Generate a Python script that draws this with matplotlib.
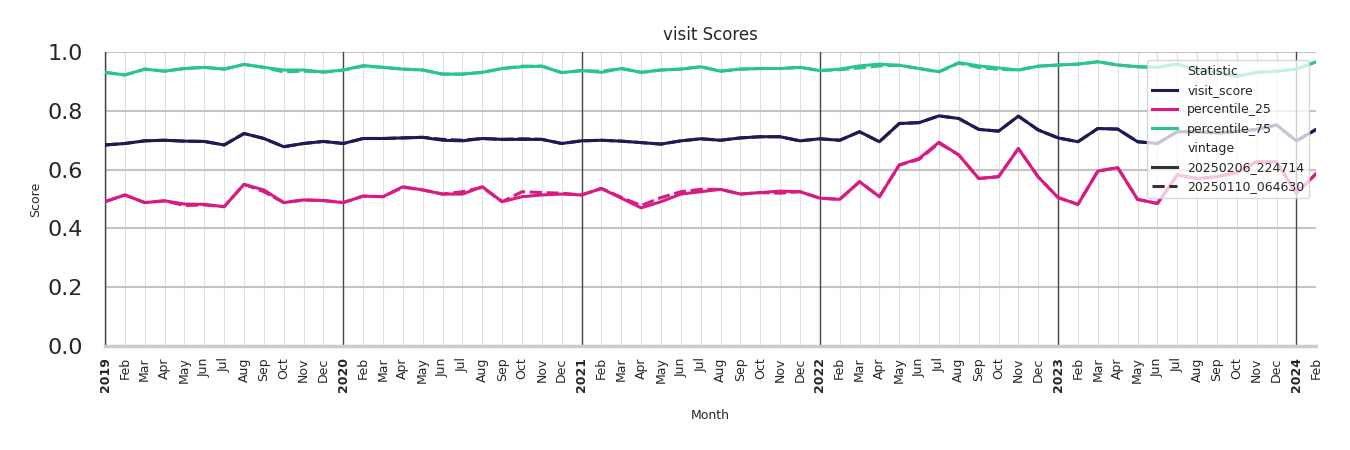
import numpy as np
import matplotlib.pyplot as plt
from matplotlib.lines import Line2D

# monthly axis, Jan 2019 .. Feb 2024
months = ["Jan", "Feb", "Mar", "Apr", "May", "Jun", "Jul", "Aug", "Sep", "Oct", "Nov", "Dec"]
years = [2019, 2020, 2021, 2022, 2023, 2024]
tick_labels = []
for y in years:
    for m in months:
        tick_labels.append(str(y) if m == "Jan" else m)
tick_labels = tick_labels[:62]

# vintage 20250206_224714 (solid)
visit_score = [
    0.684, 0.689, 0.698, 0.700, 0.697, 0.696, 0.684, 0.723, 0.706, 0.678, 0.689, 0.696,
    0.689, 0.706, 0.706, 0.708, 0.710, 0.700, 0.698, 0.706, 0.703, 0.703, 0.703, 0.689,
    0.698, 0.700, 0.697, 0.692, 0.687, 0.698, 0.705, 0.700, 0.708, 0.712, 0.712, 0.698,
    0.705, 0.700, 0.729, 0.695, 0.757, 0.760, 0.783, 0.774, 0.737, 0.731, 0.782, 0.735,
    0.708, 0.695, 0.740, 0.738, 0.695, 0.689, 0.729, 0.729, 0.725, 0.730, 0.737, 0.752,
    0.698, 0.737,
]
percentile_25 = [
    0.491, 0.514, 0.488, 0.494, 0.483, 0.482, 0.474, 0.550, 0.531, 0.488, 0.497, 0.495,
    0.488, 0.510, 0.508, 0.542, 0.531, 0.517, 0.517, 0.542, 0.491, 0.508, 0.514, 0.517,
    0.514, 0.536, 0.503, 0.470, 0.491, 0.517, 0.525, 0.533, 0.517, 0.522, 0.527, 0.525,
    0.503, 0.499, 0.559, 0.508, 0.616, 0.638, 0.693, 0.650, 0.570, 0.576, 0.672, 0.575,
    0.505, 0.482, 0.595, 0.607, 0.499, 0.485, 0.582, 0.570, 0.576, 0.590, 0.627, 0.627,
    0.519, 0.587,
]
percentile_75 = [
    0.931, 0.922, 0.942, 0.935, 0.944, 0.948, 0.942, 0.958, 0.948, 0.939, 0.939, 0.932,
    0.939, 0.954, 0.948, 0.942, 0.939, 0.925, 0.925, 0.931, 0.944, 0.950, 0.952, 0.930,
    0.937, 0.931, 0.944, 0.931, 0.939, 0.942, 0.950, 0.935, 0.942, 0.944, 0.944, 0.948,
    0.937, 0.942, 0.953, 0.959, 0.955, 0.944, 0.933, 0.964, 0.953, 0.946, 0.939, 0.952,
    0.956, 0.959, 0.967, 0.956, 0.950, 0.948, 0.959, 0.939, 0.931, 0.918, 0.931, 0.935,
    0.942, 0.967,
]

# vintage 20250110_064630 (dashed)
visit_score_old = [
    0.684, 0.689, 0.698, 0.700, 0.697, 0.696, 0.684, 0.723, 0.706, 0.678, 0.689, 0.696,
    0.689, 0.706, 0.706, 0.708, 0.710, 0.703, 0.700, 0.706, 0.703, 0.705, 0.703, 0.689,
    0.698, 0.700, 0.697, 0.692, 0.687, 0.698, 0.705, 0.700, 0.708, 0.712, 0.712, 0.698,
    0.705, 0.700, 0.729, 0.695, 0.757, 0.760, 0.783, 0.774, 0.737, 0.731, 0.782, 0.735,
    0.708, 0.695, 0.740, 0.738, 0.695, 0.689, 0.729, 0.729, 0.725, 0.730, 0.737, 0.752,
    0.698, 0.737,
]
percentile_25_old = [
    0.491, 0.514, 0.488, 0.494, 0.478, 0.480, 0.474, 0.550, 0.525, 0.488, 0.497, 0.495,
    0.488, 0.510, 0.508, 0.540, 0.531, 0.517, 0.525, 0.540, 0.491, 0.525, 0.522, 0.520,
    0.514, 0.536, 0.506, 0.478, 0.505, 0.525, 0.533, 0.533, 0.517, 0.522, 0.520, 0.525,
    0.503, 0.499, 0.559, 0.508, 0.616, 0.635, 0.690, 0.650, 0.570, 0.576, 0.672, 0.575,
    0.505, 0.482, 0.595, 0.607, 0.499, 0.485, 0.582, 0.570, 0.576, 0.590, 0.627, 0.627,
    0.519, 0.587,
]
percentile_75_old = [
    0.931, 0.922, 0.942, 0.935, 0.944, 0.948, 0.942, 0.958, 0.948, 0.932, 0.935, 0.932,
    0.939, 0.952, 0.948, 0.942, 0.939, 0.925, 0.925, 0.931, 0.944, 0.952, 0.952, 0.930,
    0.937, 0.935, 0.944, 0.931, 0.939, 0.942, 0.950, 0.935, 0.942, 0.944, 0.944, 0.948,
    0.937, 0.940, 0.946, 0.953, 0.955, 0.944, 0.933, 0.962, 0.948, 0.941, 0.939, 0.952,
    0.956, 0.959, 0.967, 0.956, 0.950, 0.948, 0.959, 0.939, 0.931, 0.918, 0.931, 0.935,
    0.942, 0.967,
]

colors = {"visit_score": "#1c1c52", "percentile_25": "#d81b84", "percentile_75": "#2bc38f"}
series = {
    "visit_score": (visit_score, visit_score_old),
    "percentile_25": (percentile_25, percentile_25_old),
    "percentile_75": (percentile_75, percentile_75_old),
}

x = np.arange(len(tick_labels))

fig = plt.figure(figsize=(13.5, 4.5), dpi=100)
ax = fig.add_axes([0.0778, 0.231, 0.8972, 0.6533])

# grid: light month lines, dark year lines, gray horizontal lines
for i in x:
    if tick_labels[i].isdigit():
        ax.axvline(i, color="#444444", lw=1.0, zorder=1)
    else:
        ax.axvline(i, color="#e0e0e0", lw=0.8, zorder=0)
for yv in [0.2, 0.4, 0.6, 0.8, 1.0]:
    ax.axhline(yv, color="#c4c4c4", lw=1.5, zorder=0)

for name, (new, old) in series.items():
    ax.plot(x, old, color=colors[name], lw=2.2, dashes=(4, 1.5), zorder=3)
    ax.plot(x, new, color=colors[name], lw=2.2, zorder=4)

ax.set_xlim(0, len(x) - 1)
ax.set_ylim(0, 1.0)
ax.set_yticks([0.0, 0.2, 0.4, 0.6, 0.8, 1.0])
ax.set_yticklabels(["0.0", "0.2", "0.4", "0.6", "0.8", "1.0"], fontsize=16, color="#262626")
ax.set_xticks(x)
ax.set_xticklabels(tick_labels, rotation=90, fontsize=9, color="#262626")
for lbl in ax.get_xticklabels():
    if lbl.get_text().isdigit():
        lbl.set_fontweight("bold")
ax.tick_params(axis="both", length=0)
ax.tick_params(axis="y", pad=16)
ax.tick_params(axis="x", pad=8)

for s in ["top", "right"]:
    ax.spines[s].set_visible(False)
ax.spines["left"].set_color("#444444")
ax.spines["left"].set_linewidth(1.0)
ax.spines["bottom"].set_color("#cccccc")
ax.spines["bottom"].set_linewidth(2.5)

ax.set_title("visit Scores", fontsize=12, color="#262626", pad=9)
ax.set_ylabel("Score", fontsize=9, color="#262626")
ax.set_xlabel("Month", fontsize=9, color="#262626", labelpad=12)

blank = Line2D([], [], color="none")
handles = [blank] + [Line2D([], [], color=colors[n], lw=2.2) for n in series] + [
    blank,
    Line2D([], [], color="#333333", lw=2.2),
    Line2D([], [], color="#333333", lw=2.2, dashes=(4, 1.5)),
]
labels = ["Statistic", "visit_score", "percentile_25", "percentile_75",
          "vintage", "20250206_224714", "20250110_064630"]
leg = ax.legend(handles, labels, loc="upper right", bbox_to_anchor=(0.9995, 0.995),
                fontsize=9, framealpha=0.75, edgecolor="#cccccc", handlelength=2.0,
                labelspacing=0.5, borderpad=0.4)
leg.set_zorder(10)
for t in leg.get_texts():
    t.set_color("#262626")

fig.savefig("out.png", dpi=100)
